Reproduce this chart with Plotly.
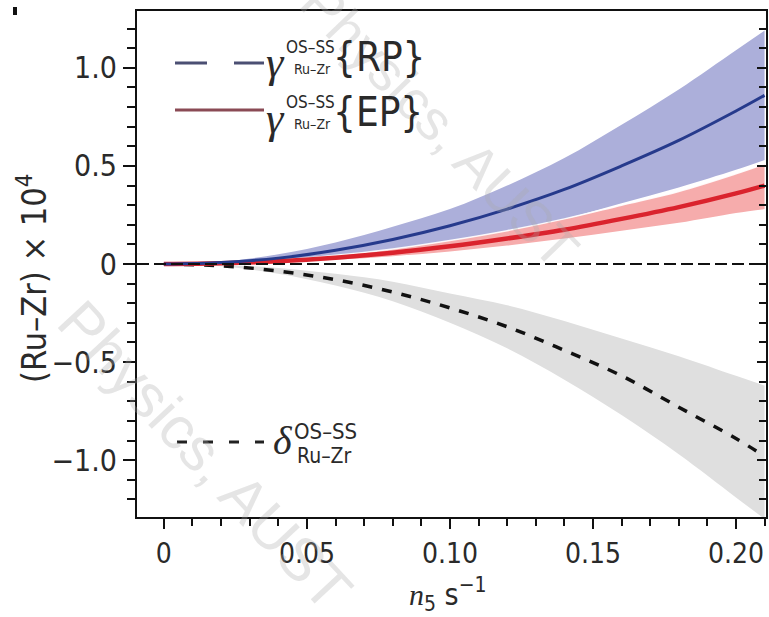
import plotly.graph_objects as go

# ---------------- data ----------------
ns = [0.0, 0.02, 0.04, 0.06, 0.08, 0.10, 0.12, 0.14, 0.16, 0.18, 0.20, 0.21]

rp_mid = [0.0, 0.008, 0.030, 0.070, 0.125, 0.195, 0.280, 0.380, 0.500, 0.630, 0.780, 0.860]
rp_hi  = [0.0, 0.012, 0.050, 0.110, 0.190, 0.280, 0.400, 0.540, 0.710, 0.890, 1.090, 1.190]
rp_lo  = [0.0, 0.004, 0.015, 0.040, 0.075, 0.120, 0.170, 0.230, 0.310, 0.390, 0.480, 0.530]

ep_mid = [0.0, 0.004, 0.014, 0.032, 0.057, 0.090, 0.130, 0.175, 0.230, 0.290, 0.360, 0.400]
ep_hi  = [0.0, 0.006, 0.020, 0.044, 0.077, 0.120, 0.170, 0.230, 0.300, 0.370, 0.460, 0.510]
ep_lo  = [0.0, 0.003, 0.010, 0.022, 0.040, 0.064, 0.094, 0.130, 0.170, 0.210, 0.260, 0.280]

dl_mid = [0.0, -0.009, -0.036, -0.080, -0.143, -0.224, -0.320, -0.440, -0.570, -0.730, -0.890, -0.980]
dl_hi  = [0.0, -0.005, -0.020, -0.050, -0.090, -0.150, -0.210, -0.290, -0.380, -0.470, -0.570, -0.620]
dl_lo  = [0.0, -0.012, -0.050, -0.110, -0.190, -0.300, -0.430, -0.590, -0.770, -0.970, -1.190, -1.300]

x_tickvals = [0, 0.05, 0.10, 0.15, 0.20]
x_ticktext = ["0", "0.05", "0.10", "0.15", "0.20"]
y_tickvals = [-1.0, -0.5, 0, 0.5, 1.0]
y_ticktext = ["\u22121.0", "\u22120.5", "0", "0.5", "1.0"]

X_RANGE = [-0.0094, 0.2105]
Y_RANGE = [-1.29, 1.29]

FONT = "DejaVu Sans Condensed, DejaVu Sans, sans-serif"
SERIF = "Liberation Serif, Times New Roman, serif"
TXT = "#2a2a2a"

# page geometry (body margin removed by post_script, so figure pixels == page pixels)
W, H = 769, 617
PL, PR, PT, PB = 137, 766, 11, 517          # plot area edges in pixels
L, T, R, B = PL, PT, W - PR, H - PB
PW, PH = PR - PL, PB - PT


def px(xp):
    return (xp - PL) / PW


def py(yp):
    return (PB - yp) / PH


fig = go.Figure()


def band(hi, lo, color):
    fig.add_trace(go.Scatter(x=ns, y=hi, mode="lines", line=dict(width=0, shape="spline"),
                             showlegend=False, hoverinfo="skip"))
    fig.add_trace(go.Scatter(x=ns, y=lo, mode="lines", line=dict(width=0, shape="spline"),
                             fill="tonexty", fillcolor=color, showlegend=False, hoverinfo="skip"))


band(dl_hi, dl_lo, "rgb(223,223,223)")
band(rp_hi, rp_lo, "rgb(172,175,218)")
band(ep_hi, ep_lo, "rgb(246,172,172)")
# thin white rim on top of the EP band
fig.add_trace(go.Scatter(x=ns, y=ep_hi, mode="lines",
                         line=dict(color="rgba(255,255,255,0.9)", width=1.5, shape="spline"),
                         showlegend=False, hoverinfo="skip"))

fig.add_trace(go.Scatter(x=ns, y=dl_mid, mode="lines",
                         line=dict(color="#111111", width=3.5, dash="10px,10px", shape="spline"),
                         showlegend=False))
fig.add_trace(go.Scatter(x=ns, y=ep_mid, mode="lines",
                         line=dict(color="rgb(218,35,45)", width=4.5, shape="spline"),
                         showlegend=False))
fig.add_trace(go.Scatter(x=ns, y=rp_mid, mode="lines",
                         line=dict(color="rgb(38,58,140)", width=3, shape="spline"),
                         showlegend=False))

# secondary y axis on the right (inward ticks)
fig.add_trace(go.Scatter(x=[None], y=[None], yaxis="y2", showlegend=False))

shapes = [
    # zero reference line
    dict(type="line", xref="paper", yref="y", x0=0, x1=1, y0=0, y1=0,
         line=dict(color="#111111", width=2.2, dash="12px,5px")),
    # legend samples
    dict(type="line", xref="paper", yref="paper", x0=px(175), x1=px(264), y0=py(63), y1=py(63),
         line=dict(color="#4b4f73", width=3, dash="32px,27px")),
    dict(type="line", xref="paper", yref="paper", x0=px(175), x1=px(264), y0=py(110), y1=py(110),
         line=dict(color="#8a4a55", width=3)),
    dict(type="line", xref="paper", yref="paper", x0=px(177), x1=px(264), y0=py(442), y1=py(442),
         line=dict(color="#222222", width=3, dash="10px,16px")),
    # small mark at top-left corner
    dict(type="rect", xref="paper", yref="paper", x0=px(13), x1=px(17), y0=py(15), y1=py(7),
         fillcolor="#111111", line=dict(width=0)),
]

ann = []


def text(x, y, s, size, anchor="left", family=FONT, color=TXT, angle=0, italic=False):
    ann.append(dict(x=px(x), y=py(y), xref="paper", yref="paper", text=s, showarrow=False,
                    xanchor=anchor, yanchor="middle", textangle=angle,
                    font=dict(family=family, size=size, color=color,
                              style="italic" if italic else "normal")))


# watermark (drawn first, beneath other annotations)
text(440, 125, "Physics, AUST", 56, anchor="center", family="Liberation Sans, sans-serif",
     color="rgba(170,170,170,0.3)", angle=46)
text(205, 455, "Physics, AUST", 60, anchor="center", family="Liberation Sans, sans-serif",
     color="rgba(170,170,170,0.3)", angle=47)

# legend entries
for yc, lab in [(57, "{RP}"), (112, "{EP}")]:
    text(275, yc + 6, "\u03b3", 44, anchor="center", family=SERIF, italic=True)
    text(284, yc - 10, "OS\u2013SS", 17)
    text(292, yc + 12, "Ru\u2013Zr", 14)
    text(331, yc, lab, 40)

text(283, 440, "\u03b4", 40, anchor="center", family=SERIF, italic=True)
text(292, 431, "OS\u2013SS", 22)
text(295, 456, "Ru\u2013Zr", 21)

# axis titles
text(32, 279, "(Ru\u2013Zr) \u00d7 10<sup>4</sup>", 34, anchor="center", angle=-90)
text(448, 594, "<span style=\"font-family:Liberation Serif\"><i>n</i></span><sub>5</sub> s<sup>\u22121</sup>",
     30, anchor="center")

axis_common = dict(showgrid=False, zeroline=False, showline=True, linecolor="#111111",
                   linewidth=2, automargin=False)

fig.update_layout(
    width=W, height=H,
    margin=dict(l=L, r=R, t=T, b=B, autoexpand=False),
    paper_bgcolor="white", plot_bgcolor="white",
    showlegend=False,
    shapes=shapes, annotations=ann,
    xaxis=dict(range=X_RANGE, tickvals=x_tickvals, ticktext=x_ticktext,
               ticks="outside", ticklen=10, tickwidth=2, tickcolor="#111111",
               minor=dict(dtick=0.01, tick0=0, ticks="outside", ticklen=7, tickwidth=1.5, tickcolor="#111111"),
               mirror=True, tickfont=dict(family=FONT, size=28, color=TXT), **axis_common),
    yaxis=dict(range=Y_RANGE, tickvals=y_tickvals, ticktext=y_ticktext,
               ticks="outside", ticklen=12, tickwidth=2, tickcolor="#111111",
               minor=dict(dtick=0.1, tick0=0, ticks="outside", ticklen=8, tickwidth=1.5, tickcolor="#111111"),
               mirror=True, tickfont=dict(family=FONT, size=30, color=TXT), **axis_common),
    yaxis2=dict(range=Y_RANGE, overlaying="y", side="right", tickvals=y_tickvals,
                showticklabels=False, ticks="inside", ticklen=9, tickwidth=2, tickcolor="#111111",
                minor=dict(dtick=0.1, tick0=0, ticks="inside", ticklen=7, tickwidth=1.5, tickcolor="#111111"),
                **axis_common),
)

fig.write_html(
    "out.html",
    config={"displayModeBar": False},
    post_script="document.body.style.margin='0px';document.body.style.overflow='hidden';",
)
